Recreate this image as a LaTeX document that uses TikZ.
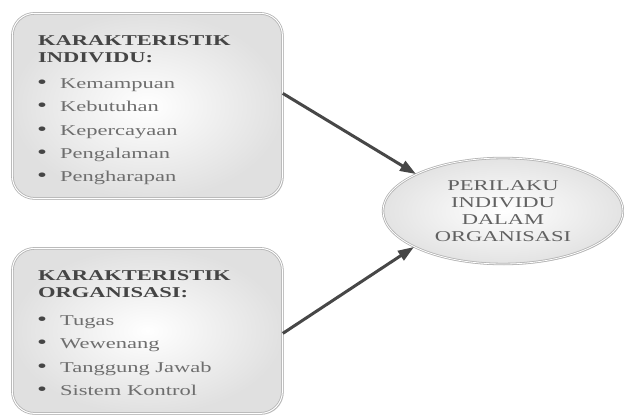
\documentclass[tikz,border=0pt]{standalone}
\usepackage{fontspec}
\setmainfont{Liberation Serif}[FakeStretch=1.5]
\usetikzlibrary{arrows.meta,shapes.geometric,shadows}
\definecolor{headgray}{HTML}{454545}
\definecolor{itemgray}{HTML}{6E6E6E}
\definecolor{arrowgray}{HTML}{474747}
\newcommand{\dotmark}{\makebox[23pt][l]{\textcolor{headgray}{\fontsize{19}{17}\selectfont\textbullet}}}
\begin{document}
\begin{tikzpicture}[x=1pt,y=-1pt,
  panel/.style={draw=gray!60, line width=0.8pt, double=white,
    double distance=1pt, rounded corners=22pt,
    inner color=white, outer color=gray!24, minimum width=270pt,
    anchor=north west,
    drop shadow={shadow xshift=1.2pt, shadow yshift=-1.2pt,
      fill=gray!45, opacity=0.8}},
  head/.style={anchor=base west, inner sep=0pt, text=headgray,
    font=\fontsize{15}{17}\selectfont\bfseries},
  entry/.style={anchor=base west, inner sep=0pt, text=itemgray,
    font=\fontsize{15}{17}\selectfont},
  goalshape/.style={ellipse, draw=gray!60, line width=0.8pt, double=white,
    double distance=0.8pt,
    inner color=white, outer color=gray!22, minimum width=240pt,
    minimum height=106pt, align=center, text=headgray!85!white,
    font=\fontsize{15}{17}\selectfont,
    drop shadow={shadow xshift=1pt, shadow yshift=-1pt,
      fill=gray!45, opacity=0.8}},
  conn/.style={draw=arrowgray, line width=3pt,
    -{Triangle[length=16pt,width=11pt]}}]
\useasboundingbox (0,0) rectangle (624,415);

% two characteristic panels
\node[panel, minimum height=185pt] (box1) at (12,13) {};
\node[panel, minimum height=165pt] (box2) at (12,248) {};

% outcome ellipse
\node[goalshape] (goal) at (503,211) {PERILAKU\\INDIVIDU\\DALAM\\ORGANISASI};

% panel 1 text
\node[head] (h1a) at (38,45) {KARAKTERISTIK};
\node[head] (h1b) at (38,62) {INDIVIDU:};
\node[entry] (i1) at (37,88.5)  {\dotmark Kemampuan};
\node[entry] (i2) at (37,111.8) {\dotmark Kebutuhan};
\node[entry] (i3) at (37,135.1) {\dotmark Kepercayaan};
\node[entry] (i4) at (37,158.4) {\dotmark Pengalaman};
\node[entry] (i5) at (37,181.7) {\dotmark Pengharapan};

% panel 2 text
\node[head] (h2a) at (38,280) {KARAKTERISTIK};
\node[head] (h2b) at (38,297) {ORGANISASI:};
\node[entry] (j1) at (37,325)   {\dotmark Tugas};
\node[entry] (j2) at (37,348.5) {\dotmark Wewenang};
\node[entry] (j3) at (37,372)   {\dotmark Tanggung Jawab};
\node[entry] (j4) at (37,395.5) {\dotmark Sistem Kontrol};

% influence arrows
\draw[conn] ([yshift=12.5pt]box1.east) -- (goal.157);
\draw[conn] ([yshift=-2.5pt]box2.east) -- (goal.202);
\end{tikzpicture}
\end{document}
